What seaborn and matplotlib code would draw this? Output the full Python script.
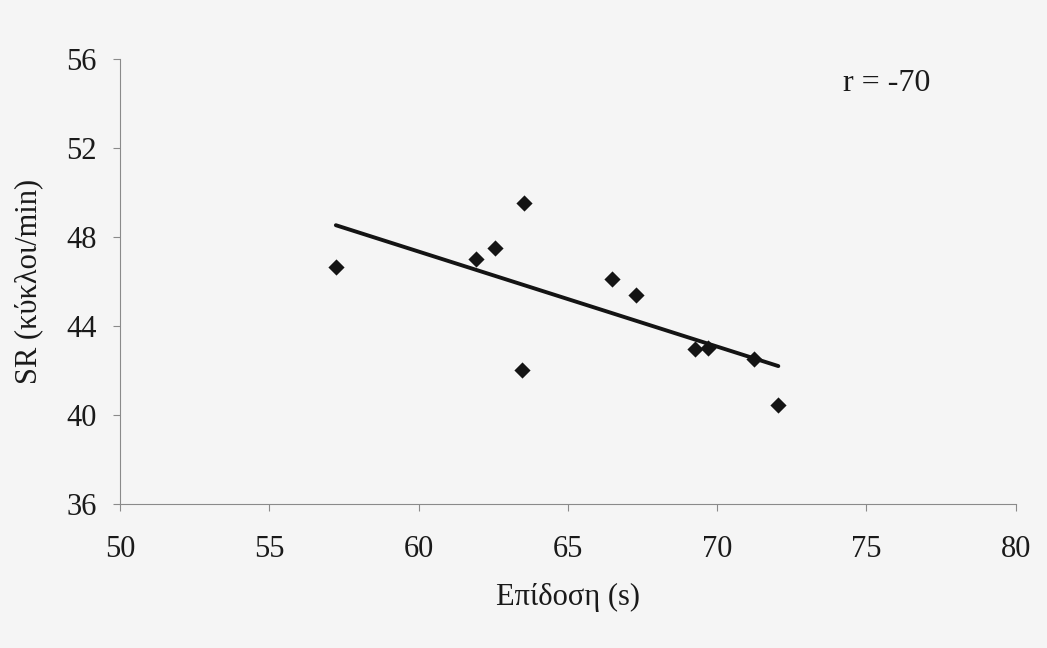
import matplotlib
matplotlib.use('Agg')
import matplotlib.pyplot as plt
import seaborn as sns
import pandas as pd

# dados
epidosi = [57.23, 61.91, 62.57, 63.53, 63.46, 66.47, 67.28, 69.26, 69.68, 71.22, 72.05]
sr = [46.67, 47.01, 47.51, 49.54, 42.02, 46.11, 45.39, 42.95, 43.03, 42.52, 40.45]
x_ticks = [50, 55, 60, 65, 70, 75, 80]
y_ticks = [36, 40, 44, 48, 52, 56]
texto_r = 'r = -70'

df = pd.DataFrame({'epidosi': epidosi, 'sr': sr})

sns.set_theme(style='ticks')
plt.rcParams['font.family'] = ['Liberation Serif', 'DejaVu Serif']

fundo = '#f5f5f5'
cinza_eixo = '#8a8a8a'
preto = '#141414'

fig = plt.figure(figsize=(10.47, 6.48), dpi=100, facecolor=fundo)
ax = fig.add_axes([0.1146, 0.2222, 0.8555, 0.6867])
ax.set_facecolor(fundo)

sns.regplot(x='epidosi', y='sr', data=df, ci=None, truncate=True, ax=ax, marker='D',
            scatter_kws=dict(s=68, color=preto, alpha=1, linewidths=0),
            line_kws=dict(color=preto, linewidth=2.8))

ax.set_xlim(50, 80)
ax.set_ylim(36, 56)
ax.set_xticks(x_ticks)
ax.set_yticks(y_ticks)
ax.tick_params(axis='both', labelsize=22, colors=cinza_eixo, labelcolor='#1a1a1a',
               length=5, width=0.8, direction='out')
ax.tick_params(axis='x', pad=17)
ax.tick_params(axis='y', pad=12)

for lado in ['top', 'right']:
    ax.spines[lado].set_visible(False)
for lado in ['left', 'bottom']:
    ax.spines[lado].set_color(cinza_eixo)
    ax.spines[lado].set_linewidth(0.8)

ax.set_xlabel('Επίδοση (s)', fontsize=22, color='#1a1a1a', labelpad=14)
ax.set_ylabel('SR (κύκλοι/min)', fontsize=22, color='#1a1a1a', labelpad=16)

ax.text(74.2, 54.92, texto_r, fontsize=23, color='#1a1a1a', va='center', ha='left')

fig.savefig('out.png', dpi=100, facecolor=fundo)
